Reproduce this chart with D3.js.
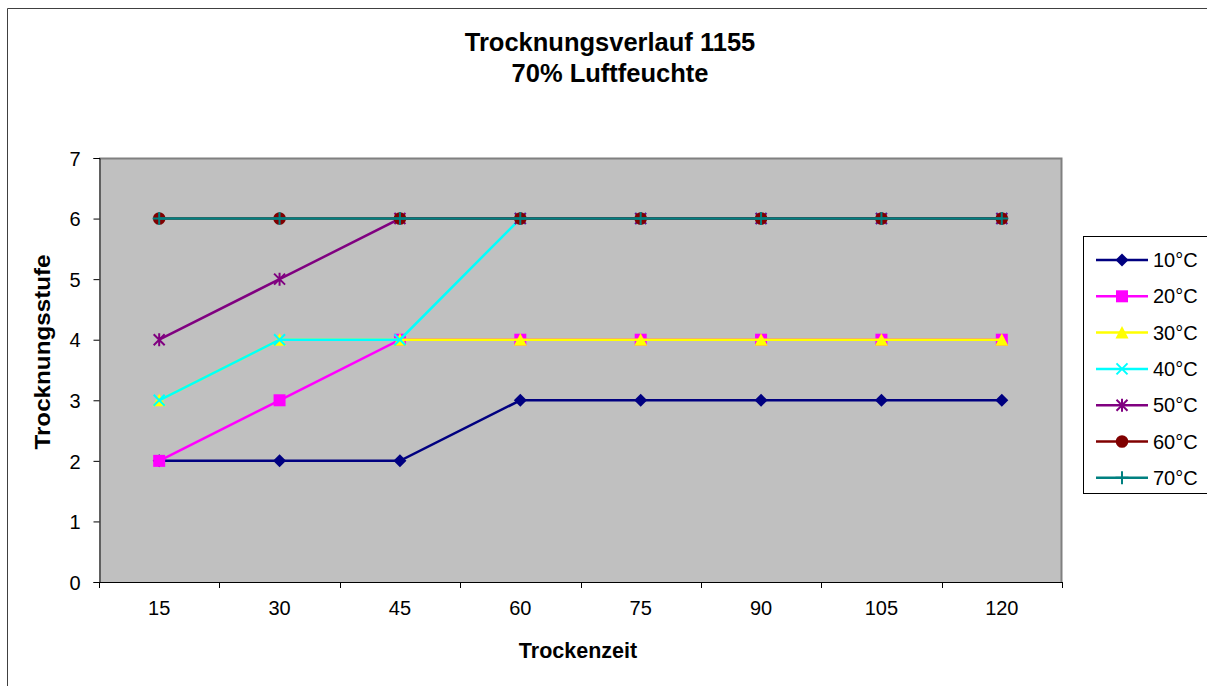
<!DOCTYPE html>
<html><head><meta charset="utf-8">
<script src="https://cdn.jsdelivr.net/npm/d3@7"></script>
<style>body{margin:0;background:#fff}svg{display:block;font-family:"Liberation Sans",Arial,sans-serif}</style>
</head><body>
<script>
const categories = ["15","30","45","60","75","90","105","120"];
const seriesNames = ["10°C","20°C","30°C","40°C","50°C","60°C","70°C"];
const s10 = [2,2,2,3,3,3,3,3];
const s20 = [2,3,4,4,4,4,4,4];
const s30 = [3,4,4,4,4,4,4,4];
const s40 = [3,4,4,6,6,6,6,6];
const s50 = [4,5,6,6,6,6,6,6];
const s60 = [6,6,6,6,6,6,6,6];
const s70 = [6,6,6,6,6,6,6,6];
const yTicks = [0,1,2,3,4,5,6,7];
const colors = ["#000080","#FF00FF","#FFFF00","#00FFFF","#800080","#800000","#008080"];
const markers = ["diamond","square","triangle","x","star","circle","plus"];
const values = [s10,s20,s30,s40,s50,s60,s70];

const W=1207,H=686;
const FF="Liberation Sans, Arial, sans-serif";
const svg=d3.select("body").append("svg").attr("width",W).attr("height",H);
svg.append("rect").attr("width",W).attr("height",H).attr("fill","#fff");
// outer frame
svg.append("line").attr("x1",7.5).attr("x2",W).attr("y1",8.5).attr("y2",8.5).attr("stroke","#404040").attr("stroke-width",1);
svg.append("line").attr("x1",7.5).attr("x2",7.5).attr("y1",8.5).attr("y2",H).attr("stroke","#404040").attr("stroke-width",1);

const L=99,R=1062,T=158,B=582;
const x=d3.scaleBand().domain(categories).range([L,R]);
const y=d3.scaleLinear().domain([0,7]).range([B,T]);

svg.append("rect").attr("x",L).attr("y",T).attr("width",R-L).attr("height",B-T).attr("fill","#C0C0C0");
svg.append("path").attr("d",`M${L},${T+0.5}H${R-0.5}V${B}`).attr("fill","none").attr("stroke","#808080").attr("stroke-width",2);

// axes
const yAxis=d3.axisLeft(y).tickValues(yTicks).tickFormat(d3.format("d")).tickSize(6).tickPadding(13);
const gy=svg.append("g").attr("transform",`translate(${L+0.5},0)`).call(yAxis);
gy.attr("font-family",FF).attr("font-size",20);
gy.select(".domain").attr("stroke","#000");
gy.selectAll("line").attr("stroke","#000");
gy.selectAll("text").attr("fill","#000").attr("dy","0.36em");

const gx=svg.append("g").attr("transform",`translate(0,${B})`);
gx.append("line").attr("x1",L).attr("x2",R).attr("y1",0.5).attr("y2",0.5).attr("stroke","#000");
const bounds=categories.map(c=>x(c)).concat([R]);
gx.selectAll("line.t").data(bounds).join("line").attr("class","t")
  .attr("x1",d=>Math.round(d)+0.5).attr("x2",d=>Math.round(d)+0.5).attr("y1",0).attr("y2",6).attr("stroke","#000");
gx.selectAll("text").data(categories).join("text")
  .attr("x",d=>x(d)+x.bandwidth()/2).attr("y",33).attr("text-anchor","middle")
  .attr("font-size",20).attr("fill","#000").text(d=>d);

// marker drawing
function drawMarker(g,type,cx,cy,color){
  if(type==="diamond"){
    const s=6.5;
    g.append("path").attr("d",`M${cx},${cy-s}L${cx+s},${cy}L${cx},${cy+s}L${cx-s},${cy}Z`).attr("fill",color);
  } else if(type==="square"){
    g.append("rect").attr("x",cx-6).attr("y",cy-6).attr("width",12).attr("height",12).attr("fill",color);
  } else if(type==="triangle"){
    g.append("path").attr("d",`M${cx},${cy-6.5}L${cx+6.5},${cy+6}L${cx-6.5},${cy+6}Z`).attr("fill",color);
  } else if(type==="x"){
    g.append("path").attr("d",`M${cx-5.5},${cy-5.5}L${cx+5.5},${cy+5.5}M${cx+5.5},${cy-5.5}L${cx-5.5},${cy+5.5}`).attr("stroke",color).attr("stroke-width",2);
  } else if(type==="star"){
    g.append("path").attr("d",`M${cx-5.5},${cy-5.5}L${cx+5.5},${cy+5.5}M${cx+5.5},${cy-5.5}L${cx-5.5},${cy+5.5}M${cx},${cy-6.5}V${cy+6.5}`).attr("stroke",color).attr("stroke-width",2);
  } else if(type==="circle"){
    g.append("circle").attr("cx",cx).attr("cy",cy).attr("r",6.3).attr("fill",color);
  } else if(type==="plus"){
    g.append("path").attr("d",`M${cx-6.5},${cy}H${cx+6.5}M${cx},${cy-6.5}V${cy+6.5}`).attr("stroke",color).attr("stroke-width",2);
  }
}

const line=d3.line().x((d,i)=>x(categories[i])+x.bandwidth()/2).y(d=>y(d));
values.forEach((vals,k)=>{
  const g=svg.append("g");
  g.append("path").datum(vals).attr("d",line).attr("fill","none").attr("stroke",colors[k]).attr("stroke-width",2.5);
  vals.forEach((v,i)=>drawMarker(g,markers[k],x(categories[i])+x.bandwidth()/2,y(v),colors[k]));
});

// legend
const lg=svg.append("g");
lg.append("rect").attr("x",1083.5).attr("y",236.5).attr("width",140).attr("height",257).attr("fill","#fff").attr("stroke","#000");
seriesNames.forEach((n,k)=>{
  const yy=260+k*36.3;
  lg.append("line").attr("x1",1096).attr("x2",1148).attr("y1",yy).attr("y2",yy).attr("stroke",colors[k]).attr("stroke-width",2.5);
  drawMarker(lg,markers[k],1122,yy,colors[k]);
  lg.append("text").attr("x",1153).attr("y",yy+7).attr("font-size",20).attr("fill","#000").text(n);
});

// titles
svg.append("text").attr("x",610).attr("y",51).attr("text-anchor","middle").attr("font-size",25.5).attr("font-weight","bold").text("Trocknungsverlauf 1155");
svg.append("text").attr("x",610).attr("y",82).attr("text-anchor","middle").attr("font-size",25.5).attr("font-weight","bold").text("70% Luftfeuchte");
svg.append("text").attr("x",578).attr("y",658).attr("text-anchor","middle").attr("font-size",21.5).attr("font-weight","bold").text("Trockenzeit");
svg.append("text").attr("transform","translate(50,352) rotate(-90)").attr("text-anchor","middle").attr("font-size",22).attr("font-weight","bold").attr("textLength",195).attr("lengthAdjust","spacingAndGlyphs").text("Trocknungsstufe");
</script>
</body></html>
